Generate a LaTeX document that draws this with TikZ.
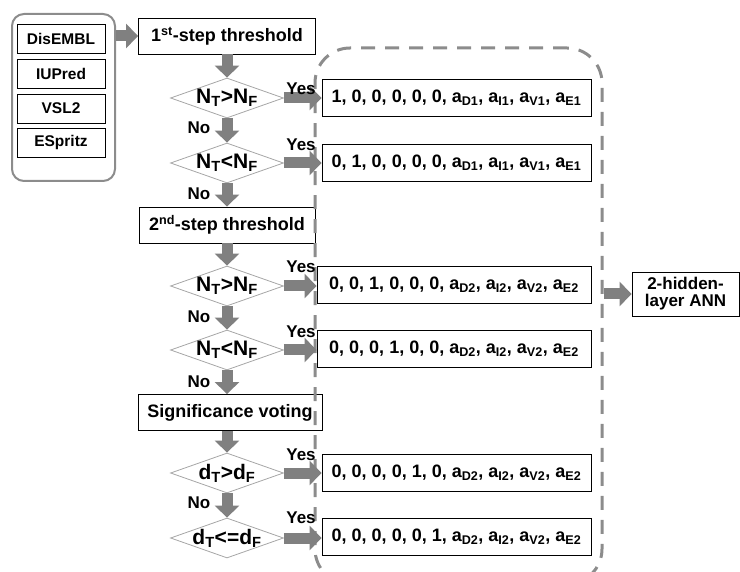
\documentclass[tikz,border=0pt]{standalone}
\usepackage{fontspec}
\setmainfont{Liberation Sans}
\usetikzlibrary{shapes.geometric,arrows.meta}
\definecolor{arrowgray}{HTML}{808080}
\definecolor{edgegray}{HTML}{A6A6A6}
\definecolor{groupgray}{HTML}{8C8C8C}
\newcommand{\sz}[1]{\fontsize{#1}{#1}\selectfont}
\newcommand{\vecrow}[2]{#1, a\textsubscript{D#2}, a\textsubscript{I#2}, a\textsubscript{V#2}, a\textsubscript{E#2}}

\begin{document}
\begin{tikzpicture}[x = 1pt, y = -1pt,
  box/.style = {draw, line width = .9pt, inner sep = 0pt, minimum height = 36, font = \bfseries\sz{18}},
  toolbox/.style = {box, minimum width = 88, minimum height = 29, font = \bfseries\sz{15.5}},
  result/.style = {box, minimum width = 269, minimum height = 37},
  decision/.style = {diamond, draw = edgegray, line width = .8pt, inner sep = 0pt, minimum width = 113, minimum height = 40},
  cond/.style = {font = \bfseries\sz{21}, inner sep = 0pt},
  answer/.style = {font = \bfseries\sz{17}, inner sep = 0pt},
  flow/.style = {draw = arrowgray, line width = 11pt, -{Triangle[width = 24pt, length = 12pt]}}]
\useasboundingbox (0,0) rectangle (740,572);

% predictors
\node[draw = groupgray, line width = 2pt, rounded corners = 12pt, minimum width = 103, minimum height = 167] (tools) at (63.5,97.5) {};
\node[toolbox] (disembl) at (61,39) {DisEMBL};
\node[toolbox] (iupred) at (61,73.5) {IUPred};
\node[toolbox] (vsl) at (61,108.5) {VSL2};
\node[toolbox] (espritz) at (61,142.5) {ESpritz};

% decision column
\node[box, minimum width = 177] (step1) at (227,36) {1\textsuperscript{st}-step threshold};
\node[decision, label = {[cond]center:N\textsubscript{T}>N\textsubscript{F}}] (d1) at (227,98) {};
\node[decision, label = {[cond]center:N\textsubscript{T}<N\textsubscript{F}}] (d2) at (227,163) {};
\node[box, minimum width = 176] (step2) at (227,225) {2\textsuperscript{nd}-step threshold};
\node[decision, label = {[cond]center:N\textsubscript{T}>N\textsubscript{F}}] (d3) at (227,286) {};
\node[decision, label = {[cond]center:N\textsubscript{T}<N\textsubscript{F}}] (d4) at (227,350) {};
\node[box, minimum width = 184] (vote) at (230,412.5) {Significance voting};
\node[decision, label = {[cond]center:d\textsubscript{T}>d\textsubscript{F}}] (d5) at (227,473) {};
\node[decision, label = {[cond]center:d\textsubscript{T}<=d\textsubscript{F}}] (d6) at (227,538) {};

% feature vectors
\node[draw = groupgray, line width = 3pt, dash pattern = on 14pt off 10pt, rounded corners = 35pt, minimum width = 287, minimum height = 536] (vectors) at (458.5,316) {};
\node[result] (r1) at (456.5,97.5) {\vecrow{1, 0, 0, 0, 0, 0}{1}};
\node[result] (r2) at (456.5,162.5) {\vecrow{0, 1, 0, 0, 0, 0}{1}};
\node[result, minimum width = 274] (r3) at (454,285) {\vecrow{0, 0, 1, 0, 0, 0}{2}};
\node[result, minimum width = 274] (r4) at (454,349) {\vecrow{0, 0, 0, 1, 0, 0}{2}};
\node[result] (r5) at (456.5,473) {\vecrow{0, 0, 0, 0, 1, 0}{2}};
\node[result] (r6) at (456.5,537) {\vecrow{0, 0, 0, 0, 0, 1}{2}};
\node[box, align = center, minimum width = 107, minimum height = 44, font = \bfseries\sz{17}] (ann) at (685.5,294) {2-hidden-\\layer ANN};

% arrows
\draw[flow] (tools.east |- step1) -- (step1);
\draw[flow] (step1) -- (d1);
\draw[flow] (d1) -- (d2);
\draw[flow] (d2) -- (step2);
\draw[flow] (step2) -- (d3);
\draw[flow] (d3) -- (d4);
\draw[flow] (d4) -- (vote.north -| d4);
\draw[flow] (vote.south -| d5) -- (d5);
\draw[flow] (d5) -- (d6);
\foreach \i in {1,...,6}
  \draw[flow] (d\i) -- (d\i -| r\i.west);
\draw[flow] (vectors.east |- ann) -- (ann);

% labels
\foreach \i/\y in {1/89,2/145,3/267,4/332,5/455,6/518}
  \node[answer] (yes\i) at (301,\y) {Yes};
\foreach \i/\y in {1/128,2/194,3/317,4/382,5/503}
  \node[answer] (no\i) at (199,\y) {No};
\end{tikzpicture}
\end{document}
